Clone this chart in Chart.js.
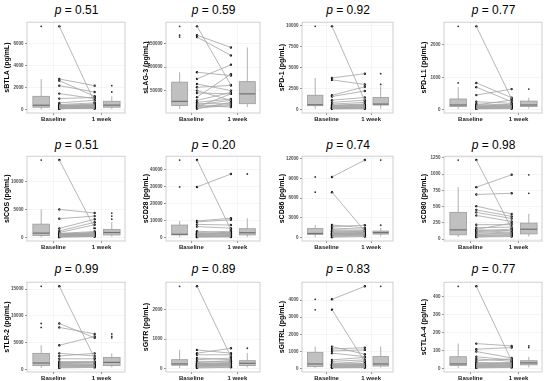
<!DOCTYPE html>
<html>
<head>
<meta charset="utf-8">
<script src="https://cdn.jsdelivr.net/npm/chart.js@4.4.1/dist/chart.umd.min.js"></script>
<style>
  body { margin: 0; background: #fff; width: 550px; height: 381px; position: relative; overflow: hidden;
         font-family: "Liberation Sans", Arial, sans-serif; }
  .ttl { position: absolute; font-size: 12px; white-space: nowrap; color: #000; transform: translate(-50%, -50%); }
  canvas { position: absolute; }
</style>
</head>
<body>
<script>
// x-axis labels (two time points)
const xLabels = ["Baseline", "1 week"];

// ---- values (pg/mL), paired per patient ----
const baseBTLA = [7550, 2770, 2620, 2165, 1445, 990, 600, 450, 400, 380, 350, 300, 280, 250, 220, 200, 180, 150, 120, 100, 80, 60];
const weekBTLA = [650, 2165, 1200, 1590, 990, 1100, 840, 600, 450, 300, 500, 350, 400, 200, 250, 380, 300, 150, 250, 100, 120, 200];
const boxBaseBTLA = [30, 210, 390, 1200, 2770];
const boxWeekBTLA = [60, 210, 400, 750, 1200];
const ticksBTLA = [0, 2000, 4000, 6000];

const baseLAG3 = [187000, 168000, 164000, 89000, 75000, 64000, 57000, 50000, 45000, 36000, 29000, 25000, 22000, 20000, 18000, 16000, 15000, 13000, 11000];
const weekLAG3 = [62000, 142000, 125000, 82000, 105000, 50000, 61000, 29000, 43000, 85000, 46000, 32000, 22000, 29000, 15000, 20000, 43000, 18000, 25000];
const boxBaseLAG3 = [11000, 18000, 27000, 68000, 89000];
const boxWeekLAG3 = [15000, 22000, 43000, 69000, 142000];
const ticksLAG3 = [50000, 100000, 150000];

const basePD1 = [9920, 3770, 3540, 1710, 1560, 1130, 860, 660, 540, 480, 420, 380, 330, 280, 230, 180, 150, 120, 90];
const weekPD1 = [1050, 4280, 3000, 2720, 2220, 1440, 1130, 860, 660, 600, 540, 480, 300, 420, 250, 200, 350, 150, 100];
const boxBasePD1 = [90, 470, 580, 1710, 3770];
const boxWeekPD1 = [100, 545, 660, 1440, 2800];
const ticksPD1 = [0, 2500, 5000, 7500, 10000];

const basePDL1 = [2575, 830, 700, 455, 250, 180, 150, 130, 120, 100, 90, 80, 70, 60, 50, 40, 30];
const weekPDL1 = [335, 375, 250, 640, 200, 150, 300, 130, 120, 110, 180, 100, 90, 60, 70, 50, 40];
const boxBasePDL1 = [30, 100, 150, 335, 700];
const boxWeekPDL1 = [40, 100, 150, 270, 375];
const ticksPDL1 = [0, 1000, 2000];

const baseICOS = [13850, 5050, 3400, 1650, 1200, 930, 770, 700, 650, 600, 550, 500, 450, 400, 350, 300, 250, 200, 150, 100];
const weekICOS = [1700, 4400, 3850, 3300, 2750, 2300, 1100, 900, 800, 700, 600, 950, 500, 450, 550, 400, 350, 300, 250, 200];
const boxBaseICOS = [100, 380, 820, 2420, 5050];
const boxWeekICOS = [200, 490, 930, 1480, 2750];
const ticksICOS = [0, 5000, 10000];

const baseCD28 = [45800, 30000, 10000, 9450, 8000, 6700, 4000, 3200, 2800, 2500, 2200, 2000, 1800, 1500, 1200, 1000, 800, 500];
const weekCD28 = [4900, 37600, 11600, 10700, 7600, 5800, 3000, 4000, 2500, 3300, 2000, 2800, 1500, 1800, 1200, 1000, 900, 600];
const boxBaseCD28 = [500, 1800, 2200, 7600, 10000];
const boxWeekCD28 = [600, 1800, 3100, 5450, 11600];
const ticksCD28 = [0, 10000, 20000, 30000, 40000];

const baseCD86 = [9200, 6900, 1950, 1700, 1480, 1250, 1100, 1000, 900, 800, 700, 650, 600, 550, 500, 400, 300, 200, 100];
const weekCD86 = [11760, 1020, 1500, 1900, 1300, 1100, 900, 1000, 800, 700, 750, 600, 500, 650, 550, 400, 450, 300, 200];
const boxBaseCD86 = [100, 520, 650, 1390, 1950];
const boxWeekCD86 = [200, 560, 790, 1020, 1500];
const ticksCD86 = [0, 3000, 6000, 9000, 12000];

const baseCD80 = [1217, 800, 687, 507, 450, 412, 365, 222, 175, 150, 140, 130, 120, 100, 80, 70, 60, 50, 40, 30];
const weekCD80 = [165, 990, 705, 388, 350, 317, 270, 222, 185, 246, 130, 152, 90, 128, 80, 100, 60, 70, 50, 40];
const boxBaseCD80 = [30, 66, 142, 412, 800];
const boxWeekCD80 = [40, 80, 152, 246, 388];
const ticksCD80 = [0, 250, 500, 750, 1000, 1250];

const baseTLR2 = [15540, 8590, 7860, 4530, 3020, 2540, 2000, 1500, 1300, 1200, 1100, 1000, 900, 800, 700, 600, 500, 400, 300];
const weekTLR2 = [2120, 5920, 6650, 6170, 2540, 3020, 2000, 1510, 1330, 1400, 1200, 1000, 900, 800, 750, 700, 600, 500, 400];
const boxBaseTLR2 = [300, 725, 1210, 3020, 4530];
const boxWeekTLR2 = [400, 725, 1330, 2240, 3020];
const ticksTLR2 = [0, 5000, 10000, 15000];

const baseGITR = [2800, 633, 522, 467, 356, 300, 244, 200, 180, 160, 150, 140, 120, 110, 100, 80, 60, 40, 20];
const weekGITR = [400, 522, 689, 467, 300, 356, 244, 267, 200, 190, 178, 150, 160, 130, 100, 120, 80, 60, 40];
const boxBaseGITR = [20, 111, 156, 300, 633];
const boxWeekGITR = [40, 100, 178, 267, 522];
const ticksGITR = [0, 1000, 2000];

const baseGITRL = [4040, 3430, 1280, 1140, 1030, 900, 510, 420, 320, 280, 250, 220, 200, 180, 150, 120, 100, 80, 60, 40];
const weekGITRL = [4800, 400, 840, 1220, 1090, 700, 650, 510, 300, 420, 270, 250, 200, 220, 150, 180, 120, 100, 80, 60];
const boxBaseGITRL = [40, 115, 270, 950, 1280];
const boxWeekGITRL = [60, 150, 270, 700, 1280];
const ticksGITRL = [0, 1000, 2000, 3000, 4000];

const baseCTLA4 = [458, 140, 109, 96, 67, 55, 45, 36, 30, 28, 25, 22, 20, 18, 15, 12, 10, 8, 5];
const weekCTLA4 = [45, 127, 118, 60, 49, 42, 55, 30, 35, 25, 33, 28, 20, 22, 18, 15, 12, 10, 8];
const boxBaseCTLA4 = [5, 18, 27, 67, 140];
const boxWeekCTLA4 = [8, 22, 33, 45, 67];
const ticksCTLA4 = [0, 100, 200, 300, 400];

const panels = [
  { name: "sBTLA", p: "0.51", base: baseBTLA, week: weekBTLA, boxB: boxBaseBTLA, boxW: boxWeekBTLA, ticks: ticksBTLA },
  { name: "sLAG-3", p: "0.59", base: baseLAG3, week: weekLAG3, boxB: boxBaseLAG3, boxW: boxWeekLAG3, ticks: ticksLAG3 },
  { name: "sPD-1", p: "0.92", base: basePD1, week: weekPD1, boxB: boxBasePD1, boxW: boxWeekPD1, ticks: ticksPD1 },
  { name: "sPD-L1", p: "0.77", base: basePDL1, week: weekPDL1, boxB: boxBasePDL1, boxW: boxWeekPDL1, ticks: ticksPDL1 },
  { name: "sICOS", p: "0.51", base: baseICOS, week: weekICOS, boxB: boxBaseICOS, boxW: boxWeekICOS, ticks: ticksICOS },
  { name: "sCD28", p: "0.20", base: baseCD28, week: weekCD28, boxB: boxBaseCD28, boxW: boxWeekCD28, ticks: ticksCD28 },
  { name: "sCD86", p: "0.74", base: baseCD86, week: weekCD86, boxB: boxBaseCD86, boxW: boxWeekCD86, ticks: ticksCD86 },
  { name: "sCD80", p: "0.98", base: baseCD80, week: weekCD80, boxB: boxBaseCD80, boxW: boxWeekCD80, ticks: ticksCD80 },
  { name: "sTLR-2", p: "0.99", base: baseTLR2, week: weekTLR2, boxB: boxBaseTLR2, boxW: boxWeekTLR2, ticks: ticksTLR2 },
  { name: "sGITR", p: "0.89", base: baseGITR, week: weekGITR, boxB: boxBaseGITR, boxW: boxWeekGITR, ticks: ticksGITR },
  { name: "sGITRL", p: "0.83", base: baseGITRL, week: weekGITRL, boxB: boxBaseGITRL, boxW: boxWeekGITRL, ticks: ticksGITRL },
  { name: "sCTLA-4", p: "0.77", base: baseCTLA4, week: weekCTLA4, boxB: boxBaseCTLA4, boxW: boxWeekCTLA4, ticks: ticksCTLA4 }
];

// positions on a 0..1 x scale
const POS_BOX_B = 0.145, POS_PTS_B = 0.33, POS_PTS_W = 0.69, POS_BOX_W = 0.865;
const POS_LABELS = [0.27, 0.76];
const BOX_W = 0.17;

// page layout of plot areas
const colLeft = [27, 166, 302, 444], colRight = [126, 261, 394, 543];
const rowTop = [20, 154, 280], rowBottom = [113, 241, 372];
const titleY = [10, 145, 269];
const AW = 26, XH = 10;

const boxPlugin = {
  id: 'boxes',
  beforeDatasetsDraw(chart, args, opts) {
    const { ctx, chartArea: a, scales: { x, y } } = chart;
    ctx.save();
    ctx.strokeStyle = '#c4c4c4';
    ctx.lineWidth = 0.8;
    ctx.strokeRect(a.left, a.top, a.right - a.left, a.bottom - a.top);
    opts.boxes.forEach(b => {
      const xc = x.getPixelForValue(b.pos);
      const half = (x.getPixelForValue(b.pos + BOX_W / 2) - x.getPixelForValue(b.pos - BOX_W / 2)) / 2;
      const [lo, q1, md, q3, hi] = b.stats.map(v => y.getPixelForValue(v));
      ctx.strokeStyle = '#9c9c9c';
      ctx.lineWidth = 0.8;
      ctx.beginPath();
      ctx.moveTo(xc, hi); ctx.lineTo(xc, q3);
      ctx.moveTo(xc, q1); ctx.lineTo(xc, lo);
      ctx.stroke();
      ctx.fillStyle = '#c0c0c0';
      ctx.fillRect(xc - half, q3, 2 * half, q1 - q3);
      ctx.strokeRect(xc - half, q3, 2 * half, q1 - q3);
      ctx.strokeStyle = '#707070';
      ctx.lineWidth = 1.2;
      ctx.beginPath();
      ctx.moveTo(xc - half, md); ctx.lineTo(xc + half, md);
      ctx.stroke();
    });
    ctx.restore();
  }
};

panels.forEach((pn, i) => {
  const col = i % 4, row = Math.floor(i / 4);
  const pl = colLeft[col], pr = colRight[col], pt = rowTop[row], pb = rowBottom[row];

  const t = document.createElement('div');
  t.className = 'ttl';
  t.innerHTML = '<i>p</i> = ' + pn.p;
  t.style.left = ((pl + pr) / 2) + 'px';
  t.style.top = titleY[row] + 'px';
  document.body.appendChild(t);

  const cv = document.createElement('canvas');
  cv.width = pr - pl + AW + 3;
  cv.height = pb - pt + XH + 2;
  cv.style.left = (pl - AW) + 'px';
  cv.style.top = (pt - 2) + 'px';
  document.body.appendChild(cv);

  const all = pn.base.concat(pn.week);
  const lo = Math.min(...all), hi = Math.max(...all), pad = (hi - lo) * 0.05;

  const pairLine = [];
  pn.base.forEach((v, k) => {
    pairLine.push({ x: POS_PTS_B, y: v }, { x: POS_PTS_W, y: pn.week[k] }, { x: 0.5, y: null });
  });
  const outB = pn.base.filter(v => v > pn.boxB[4] || v < pn.boxB[0]).map(v => ({ x: POS_BOX_B, y: v }));
  const outW = pn.week.filter(v => v > pn.boxW[4] || v < pn.boxW[0]).map(v => ({ x: POS_BOX_W, y: v }));

  new Chart(cv.getContext('2d'), {
    type: 'scatter',
    data: {
      datasets: [
        { data: pairLine, showLine: true, spanGaps: false, borderColor: '#a3a3a3', borderWidth: 0.8, pointRadius: 0 },
        { data: pn.base.map(v => ({ x: POS_PTS_B, y: v })), pointRadius: 1.2, backgroundColor: '#111', borderWidth: 0 },
        { data: pn.week.map(v => ({ x: POS_PTS_W, y: v })), pointRadius: 1.2, backgroundColor: '#111', borderWidth: 0 },
        { data: outB.concat(outW), pointRadius: 0.9, backgroundColor: '#333', borderWidth: 0 }
      ]
    },
    options: {
      responsive: false,
      animation: false,
      devicePixelRatio: 1,
      layout: { padding: { top: 2, right: 3, left: 0, bottom: 0 } },
      plugins: {
        legend: { display: false },
        tooltip: { enabled: false },
        boxes: {
          boxes: [
            { pos: POS_BOX_B, stats: pn.boxB },
            { pos: POS_BOX_W, stats: pn.boxW }
          ]
        }
      },
      scales: {
        x: {
          type: 'linear', min: 0, max: 1,
          afterBuildTicks: s => { s.ticks = POS_LABELS.map(v => ({ value: v })); },
          afterFit: s => { s.height = XH; },
          ticks: {
            callback: (v, idx) => xLabels[idx],
            font: { size: 6, weight: 'bold', family: 'Liberation Sans' },
            color: '#1a1a1a', padding: 1, maxRotation: 0, autoSkip: false
          },
          grid: { color: '#efefef', lineWidth: 0.6, tickLength: 2, tickColor: '#444' },
          border: { display: false }
        },
        y: {
          min: lo - pad, max: hi + pad,
          afterBuildTicks: s => { s.ticks = pn.ticks.map(v => ({ value: v })); },
          afterFit: s => { s.width = AW; },
          ticks: {
            callback: v => String(v),
            font: { size: 4.5, weight: 'bold', family: 'Liberation Sans' },
            color: '#4d4d4d', padding: 1.5
          },
          grid: { color: '#efefef', lineWidth: 0.6, tickLength: 2, tickColor: '#444' },
          border: { display: false },
          title: {
            display: true, text: pn.name + ' (pg/mL)',
            font: { size: 7, weight: 'bold', family: 'Liberation Sans' },
            color: '#000', padding: { top: 2, bottom: 0 }
          }
        }
      }
    },
    plugins: [boxPlugin]
  });
});
</script>
</body>
</html>
